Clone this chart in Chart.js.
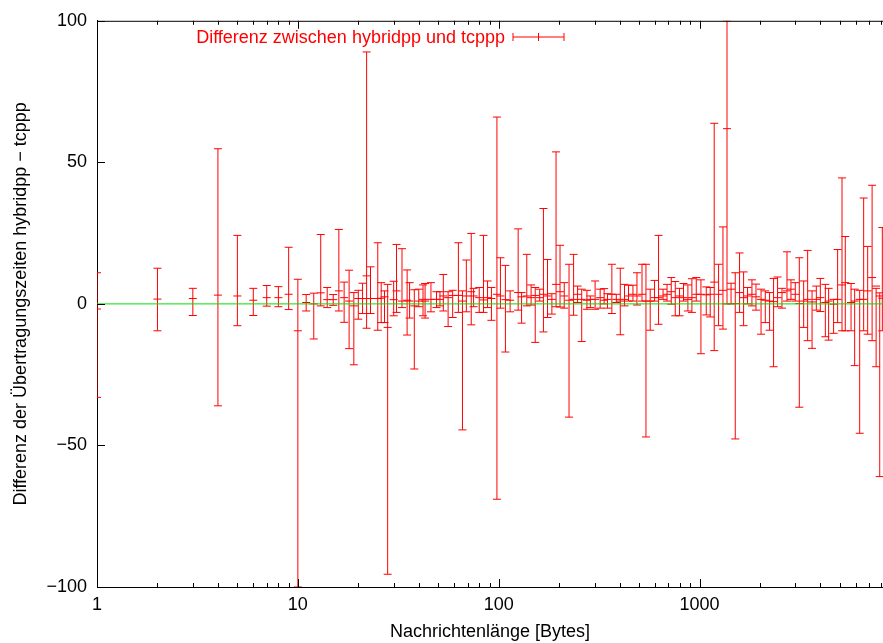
<!DOCTYPE html>
<html>
<head>
<meta charset="utf-8">
<script src="https://cdn.jsdelivr.net/npm/chart.js@4.4.1/dist/chart.umd.min.js"></script>
<style>
  html, body { margin: 0; padding: 0; background: #fff; }
  #wrap { width: 883px; height: 643px; }
</style>
</head>
<body>
<div id="wrap"><canvas id="myChart" width="883" height="643"></canvas></div>
<script>
// Nachrichtenlänge in Bytes
var sizes = [1, 2, 3, 4, 5, 6, 7, 8, 9, 10, 11, 12, 13, 14, 15, 16, 17, 18, 19, 20,
  21, 22, 23, 25, 26, 27, 28, 30, 31, 33, 35, 36, 38, 40, 42, 43, 46, 49, 51, 53,
  56, 59, 63, 66, 69, 73, 75, 80, 84, 88, 92, 98, 102, 108, 114, 125, 130, 138, 145, 152,
  160, 167, 175, 184, 193, 202, 212, 224, 236, 247, 259, 275, 286, 302, 320, 335, 348, 366, 385, 403,
  423, 443, 466, 488, 517, 541, 568, 597, 625, 658, 689, 723, 757, 795, 832, 875, 916, 963, 1016, 1080,
  1130, 1183, 1244, 1308, 1370, 1435, 1506, 1582, 1657, 1734, 1823, 1910, 2024, 2125, 2232, 2337, 2446, 2573, 2725, 2852,
  2997, 3138, 3299, 3453, 3632, 3814, 3994, 4230, 4392, 4650, 4870, 5120, 5317, 5680, 5920, 6270, 6563, 6872, 7230, 7570,
  7890, 8128];

// Mittelwert der Differenz
var diffMean = [-1.8, 1.7, 1.9, 3.1, 2.8, 1.3, 2.2, 2.2, 3.4, -9.5, 0.5, 0, 3.9, 1.5, 1.5, 4.6, 2.2, 1, -0.7, 1.9,
  1.9, 9.9, 1.9, 1.9, 2, 2.5, -8.3, 1.5, 4.6, 1, 1.3, 1, -0.7, 1, 1.6, 1, 1.6, 1.6, 1.6, 2.8,
  2.2, 3, 3, 1, 2.8, 4.3, 2.8, 2.2, 1.4, 2.2, 1.9, 3.4, 2.8, 1.5, 1.3, 4, 2.5, 2.8, 2.2, 3,
  2.2, 3.4, 2.8, 1.6, 6.9, 4.3, 2.8, 1.3, 1.6, 3.4, 1.6, 1.3, 1.6, 1.6, 2.2, 1.3, 1.6, 3.4, 1.6, 1,
  1.6, 2.8, 3.4, 2.8, 3.4, 1, 1, 2.2, 2.2, 2.8, 3.4, 4.3, 2.2, 2.8, 2.2, 1.6, 2.2, 3.4, 3.4, 3.2,
  3.4, 7.7, 3.4, 4.8, 61.9, 5.2, 0.1, 4, 2.2, 2.8, 3.4, 2.5, 1.6, 1.3, 1, 0.8, 2.2, 4, 4.6, 5.2,
  3.4, 0.1, 1, 1.6, 0.7, 1.6, 2.2, 0.5, 1, -0.1, 1.6, 6.7, 7.5, 0.5, 1, 1.6, 1.6, 4.6, 9.3, 6.3,
  2.8, 2];

// untere Grenze
var diffLow = [-33, -9.5, -4.1, -36, -7.7, -4.1, -0.8, -1, -2, -100, -2.5, -12.4, -0.7, -1.3, -0.5, -2.5, -6.5, -15.8, -21.5, -5.4,
  -3.4, -8.6, -3.4, -9.3, -6.6, -6.6, -95.5, -4.2, -3, -1.3, -11, -5, -23, -1, -4.2, -5, -2.8, -1.3, -0.7, -2.5,
  -8, -4.8, -3, -44.5, -2.8, -7.4, -1, -3, -3, -1.3, -5.8, -69, -1.5, -17, -2.8, -2.2, -6.8, -0.7, -0.4, -13.6,
  1, -9.9, -4.8, -3.6, -1, -1.1, -1.5, -40, -4, 0.5, -13.3, -1.9, -1.3, -1.9, -1.5, 0, -1.5, -3.4, 0.5, -10.9,
  -0.7, 1, 1, -0.4, 1, -47, -9.3, 1, -7.2, 1.6, 1, -0.1, -4.2, -4.2, 1, -2.5, -3, 1, -17.6, -3.9,
  -4.6, -16.5, -7.7, -8.9, 0, 0, -47.7, -3, -7.7, 0, -0.7, -2.2, -10.7, -6.6, -9.3, -22.2, -1, -1.5, 1, 1.6,
  1, -36.5, -8.3, -13, -15.7, -2.2, -2.7, -11.6, -12.8, -10.4, -6.6, -9.5, -9.5, -9.5, -21.8, -45.7, -9.5, -10.7, -13, -22.2,
  -61, -9.5];

// obere Grenze
var diffHigh = [11, 12.6, 5.5, 54.8, 24.2, 5.5, 6.5, 6.1, 20, 8.7, 3.3, 3.8, 24.5, 5.8, 3.3, 26.3, 7.7, 11.9, 4, 4.8,
  7.3, 89, 13.1, 21.6, 7.5, 4.6, 6.9, 8, 21, 19.5, 12, 7.5, 5, 5.2, 6.7, 7.2, 7.5, 4.3, 4.3, 10.4,
  4.3, 4.8, 21.6, 4.6, 15.5, 24.9, 5.5, 5.8, 24.2, 8.1, 5.8, 66, 16.3, 13.6, 4.6, 26.5, 4, 17.5, 6.7, 5.8,
  5.2, 33.7, 15.7, 3.6, 53.7, 20.7, 7.5, 14, 17.5, 6.3, 5.2, 4.8, 2.8, 8.1, 5.2, 5.4, 3.6, 14, 3.4, 12.6,
  6.9, 6.6, 6.6, 11, 14, 14, 5.2, 8.3, 24.2, 5.2, 6.9, 9.3, 7.9, 5.5, 7.2, 6.7, 8.9, 9.3, 8.5, 6,
  5.8, 63.8, 14, 27.2, 100, 7.3, 11, 18, 11.3, 5.8, 8.5, 7, 5.2, 4.6, 4, 9, 9.5, 5.5, 18.4, 8.5,
  7.5, 16.3, 8.1, 18.9, 4.6, 6.3, 9, 6.9, 5.5, 1.6, 19.2, 44.5, 23.8, 7.2, 5.2, 4.8, 37.4, 20.3, 41.9, 5.5,
  3.9, 27];

var xTicks = [1, 10, 100, 1000];
var yTicks = [-100, -50, 0, 50, 100];
var legendText = 'Differenz zwischen hybridpp und tcppp';

var FONT = 'Liberation Sans, Arial, Helvetica, sans-serif';

var points = sizes.map(function (s, i) {
  return { x: s, y: diffMean[i], lo: diffLow[i], hi: diffHigh[i] };
});

// Fehlerbalken (unter der Nulllinie gezeichnet)
var errorBars = {
  id: 'errorBars',
  beforeDatasetsDraw: function (chart) {
    var ctx = chart.ctx, a = chart.chartArea;
    var xs = chart.scales.x, ys = chart.scales.y;
    ctx.save();
    ctx.beginPath();
    ctx.rect(a.left, a.top, a.right - a.left, a.bottom - a.top);
    ctx.clip();
    ctx.strokeStyle = '#ff0000';
    ctx.lineWidth = 1;
    ctx.beginPath();
    points.forEach(function (p) {
      var px = xs.getPixelForValue(p.x);
      var pl = ys.getPixelForValue(p.lo);
      var ph = ys.getPixelForValue(p.hi);
      ctx.moveTo(px, pl); ctx.lineTo(px, ph);
      ctx.moveTo(px - 4, pl); ctx.lineTo(px + 4, pl);
      ctx.moveTo(px - 4, ph); ctx.lineTo(px + 4, ph);
    });
    ctx.stroke();
    ctx.restore();
  }
};

// Rahmen oben, Ticks nach innen, Legende
var frame = {
  id: 'frame',
  afterDraw: function (chart) {
    var ctx = chart.ctx, a = chart.chartArea;
    var xs = chart.scales.x, ys = chart.scales.y;
    ctx.save();
    ctx.strokeStyle = '#000';
    ctx.lineWidth = 1;
    ctx.beginPath();
    ctx.moveTo(a.left, a.top + 0.5); ctx.lineTo(a.right, a.top + 0.5);
    yTicks.forEach(function (v) {
      var py = Math.round(ys.getPixelForValue(v)) + 0.5;
      ctx.moveTo(a.left, py); ctx.lineTo(a.left + 8, py);
    });
    for (var d = 1; d <= 1000; d *= 10) {
      for (var m = 1; m <= 9; m++) {
        var v = d * m;
        if (v > 8192) break;
        var px = Math.round(xs.getPixelForValue(v)) + 0.5;
        var len = m === 1 ? 8 : 4;
        ctx.moveTo(px, a.bottom); ctx.lineTo(px, a.bottom - len);
        ctx.moveTo(px, a.top); ctx.lineTo(px, a.top + len);
      }
    }
    ctx.stroke();

    // Legende
    ctx.fillStyle = '#ff0000';
    ctx.font = '18px ' + FONT;
    ctx.textAlign = 'right';
    ctx.textBaseline = 'middle';
    ctx.fillText(legendText, 505, 38);
    ctx.strokeStyle = '#ff0000';
    ctx.beginPath();
    ctx.moveTo(513, 37); ctx.lineTo(564, 37);
    ctx.moveTo(513, 33); ctx.lineTo(513, 41);
    ctx.moveTo(564, 33); ctx.lineTo(564, 41);
    ctx.moveTo(538.5, 33); ctx.lineTo(538.5, 41);
    ctx.stroke();
    ctx.restore();
  }
};

var ctx = document.getElementById('myChart').getContext('2d');
var myChart = new Chart(ctx, {
  type: 'scatter',
  data: {
    datasets: [{
      label: 'null',
      type: 'line',
      data: [{ x: 1, y: 0 }, { x: 8192, y: 0 }],
      borderColor: '#00e000',
      borderWidth: 1,
      pointRadius: 0,
      order: 0
    }, {
      label: legendText,
      data: points,
      borderColor: '#ff0000',
      backgroundColor: '#ff0000',
      borderWidth: 1,
      pointStyle: 'line',
      pointRadius: 4,
      order: 1
    }]
  },
  options: {
    responsive: false,
    animation: false,
    events: [],
    layout: { autoPadding: false, padding: { top: 19, right: 0, left: 0, bottom: 0 } },
    plugins: {
      legend: { display: false },
      tooltip: { enabled: false }
    },
    scales: {
      x: {
        type: 'logarithmic',
        min: 1,
        max: 8192,
        afterBuildTicks: function (scale) {
          scale.ticks = xTicks.map(function (v) { return { value: v }; });
        },
        afterFit: function (scale) { scale.height = 56; },
        ticks: {
          autoSkip: false,
          maxRotation: 0,
          padding: 7,
          color: '#000',
          font: { family: FONT, size: 18 },
          callback: function (v) { return String(v); }
        },
        grid: { drawOnChartArea: false, drawTicks: false },
        border: { color: '#000', width: 1 },
        title: {
          display: true,
          text: 'Nachrichtenlänge [Bytes]',
          color: '#000',
          font: { family: FONT, size: 18 },
          padding: { top: 4, bottom: 0 }
        }
      },
      y: {
        min: -100,
        max: 100,
        afterBuildTicks: function (scale) {
          scale.ticks = yTicks.map(function (v) { return { value: v }; });
        },
        afterFit: function (scale) { scale.width = 97; },
        ticks: {
          padding: 10,
          color: '#000',
          font: { family: FONT, size: 18 },
          callback: function (v) { return v < 0 ? '\u2212' + Math.abs(v) : String(v); }
        },
        grid: { drawOnChartArea: false, drawTicks: false },
        border: { color: '#000', width: 1 },
        title: {
          display: true,
          text: 'Differenz der Übertragungszeiten hybridpp \u2212 tcppp',
          color: '#000',
          font: { family: FONT, size: 18 },
          padding: { top: 10, bottom: 0 }
        }
      }
    }
  },
  plugins: [errorBars, frame]
});
</script>
</body>
</html>
